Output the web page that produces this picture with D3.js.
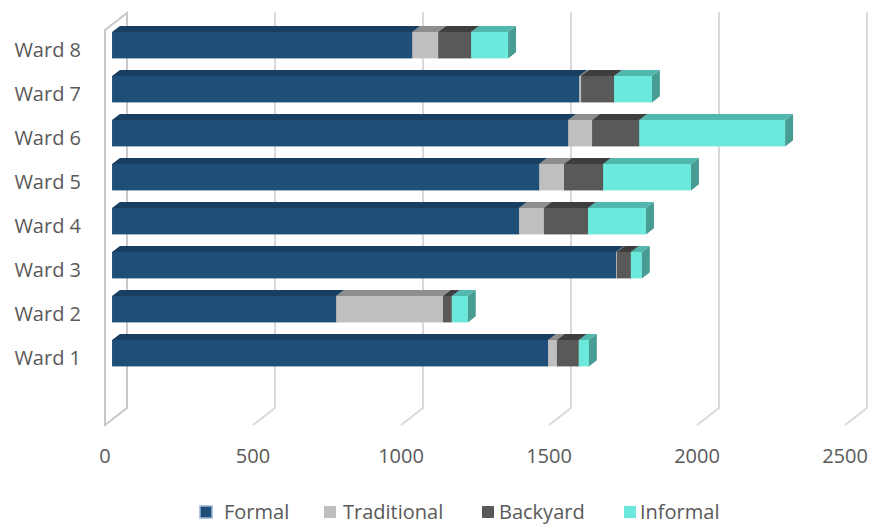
<!DOCTYPE html>
<html>
<head>
<meta charset="UTF-8">
<script src="https://cdn.jsdelivr.net/npm/d3@7"></script>
<style>
  body { margin: 0; background: #fff; }
  text { font-family: "Open Sans", sans-serif; fill: #595959; }
</style>
</head>
<body>
<script>
var wards = ["Ward 1", "Ward 2", "Ward 3", "Ward 4", "Ward 5", "Ward 6", "Ward 7", "Ward 8"]
var formal = [1473, 757, 1703, 1375, 1443, 1541, 1578, 1014]
var traditional = [30, 361, 3, 84, 84, 81, 7, 88]
var backyard = [74, 30, 47, 149, 132, 159, 111, 111]
var informal = [34, 54, 37, 196, 297, 493, 128, 125]
var seriesNames = ["Formal", "Traditional", "Backyard", "Informal"]
var tickValues = [0, 500, 1000, 1500, 2000, 2500]

// front / top / side colours per series
var faces = [
  { front: "#1f4e79", top: "#183e62", side: "#163856" },
  { front: "#bfbfbf", top: "#8e8e8e", side: "#9a9a9a" },
  { front: "#595959", top: "#3e3e3e", side: "#464646" },
  { front: "#6ae9dc", top: "#52b8ad", side: "#479c93" }
]

var width = 871, height = 525
var svg = d3.select("body").append("svg").attr("width", width).attr("height", height)

// 3d box: depth shift of the back wall
var DX = 22, DY = -17
var floorY = 425, wallTop = 30
var x = d3.scaleLinear().domain([0, 2500]).range([105, 845])

var rows = wards.map(function (w, i) {
  return { ward: w, vals: [formal[i], traditional[i], backyard[i], informal[i]] }
})

var y = d3.scaleBand().domain(wards.slice().reverse())
  .range([23.2, 375.2]).paddingInner(0.4).paddingOuter(0.2)

var grid = svg.append("g")
// floor + back wall lines
tickValues.slice(1).forEach(function (t) {
  grid.append("path")
    .attr("d", "M" + x(t) + "," + floorY + "L" + (x(t) + DX) + "," + (floorY + DY) + "L" + (x(t) + DX) + "," + (wallTop + DY - 1))
    .attr("fill", "none").attr("stroke", "#d9d9d9").attr("stroke-width", 2)
})
// side wall
grid.append("path")
  .attr("d", "M" + x(0) + "," + floorY + "L" + x(0) + "," + wallTop + "L" + (x(0) + DX) + "," + (wallTop + DY) +
    "L" + (x(0) + DX) + "," + (floorY + DY) + "Z")
  .attr("fill", "none").attr("stroke", "#c8c8c8").attr("stroke-width", 2)

// bars
var z0 = 0.32, z1 = 0.68
var fx = DX * z0
var ddx = DX * (z1 - z0), ddy = DY * (z1 - z0)

var bars = svg.append("g")
rows.slice().reverse().forEach(function (r) {
  var top = y(r.ward), h = y.bandwidth()
  var acc = 0
  r.vals.forEach(function (v, s) {
    var xa = x(acc) + fx, xb = x(acc + v) + fx
    acc += v
    if (v <= 0) return
    var g = bars.append("g")
    g.append("rect").attr("x", xa).attr("y", top).attr("width", xb - xa).attr("height", h)
      .attr("fill", faces[s].front)
    g.append("path")
      .attr("d", "M" + xa + "," + top + "L" + (xa + ddx) + "," + (top + ddy) + "L" + (xb + ddx) + "," + (top + ddy) + "L" + xb + "," + top + "Z")
      .attr("fill", faces[s].top)
    g.append("path")
      .attr("d", "M" + xb + "," + top + "L" + (xb + ddx) + "," + (top + ddy) + "L" + (xb + ddx) + "," + (top + h + ddy) + "L" + xb + "," + (top + h) + "Z")
      .attr("fill", faces[s].side)
  })
})

// category labels
svg.append("g").selectAll("text").data(wards).enter().append("text")
  .attr("x", 81).attr("y", function (d) { return y(d) + y.bandwidth() / 2 + 5 })
  .attr("dy", "0.35em").attr("text-anchor", "end").style("font-size", "20px")
  .text(function (d) { return d })

// value axis labels
svg.append("g").selectAll("text").data(tickValues).enter().append("text")
  .attr("x", function (d) { return x(d) }).attr("y", 463)
  .attr("text-anchor", "middle").style("font-size", "20px")
  .text(function (d) { return d })

// legend
var legendX = [200, 324, 482, 624]
var legendTextX = [224, 343, 499, 640]
var lg = svg.append("g")
seriesNames.forEach(function (n, i) {
  lg.append("rect").attr("x", legendX[i]).attr("y", 506).attr("width", 12).attr("height", 12)
    .attr("fill", faces[i].front)
    .attr("stroke", i == 0 ? "#9db3d6" : "none").attr("stroke-width", 1.5)
  lg.append("text").attr("x", legendTextX[i]).attr("y", 519).style("font-size", "20px").text(n)
})
</script>
</body>
</html>
